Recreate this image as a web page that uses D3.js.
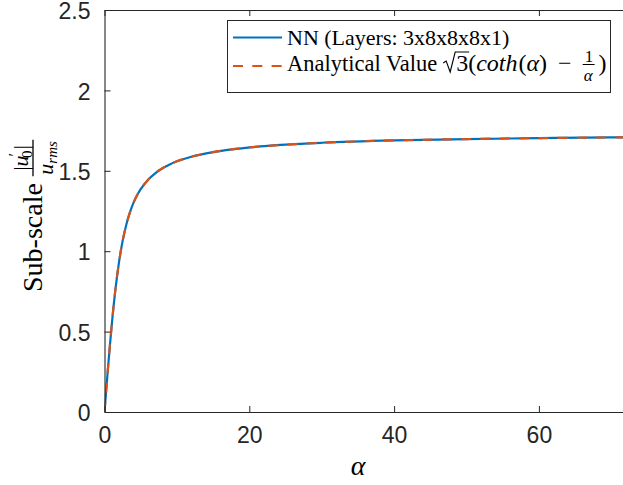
<!DOCTYPE html>
<html>
<head>
<meta charset="utf-8">
<script src="https://cdn.jsdelivr.net/npm/d3@7"></script>
<style>
  html, body { margin: 0; padding: 0; background: #fff; }
  svg { display: block; }
</style>
</head>
<body>
<svg id="chart" width="623" height="485"></svg>
<script>
// Sub-scale ratio |u'_0| / u_rms against alpha
const alphaValues = [0, 0.25, 0.5, 0.75, 1, 1.25, 1.5, 1.75, 2, 2.25, 2.5, 3, 3.5, 4, 4.5, 5, 6, 7, 8, 9, 10, 12, 15, 20, 25, 30, 40, 50, 60, 70, 75];
const nnValues = [0, 0.1437, 0.2840, 0.4153, 0.5422, 0.6562, 0.7588, 0.8502, 0.9307, 1.0012, 1.0627, 1.1633, 1.2403, 1.3002, 1.3476, 1.3858, 1.4434, 1.4846, 1.5155, 1.5396, 1.5588, 1.5877, 1.6166, 1.6454, 1.6628, 1.6743, 1.6887, 1.6974, 1.7032, 1.7073, 1.7090];
const analyticValues = [0, 0.1437, 0.2840, 0.4153, 0.5422, 0.6562, 0.7588, 0.8502, 0.9307, 1.0012, 1.0627, 1.1633, 1.2403, 1.3002, 1.3476, 1.3858, 1.4434, 1.4846, 1.5155, 1.5396, 1.5588, 1.5877, 1.6166, 1.6454, 1.6628, 1.6743, 1.6887, 1.6974, 1.7032, 1.7073, 1.7090];
const xTicks = [0, 20, 40, 60];
const yTicks = [0, 0.5, 1, 1.5, 2, 2.5];
const xTickLabels = ["0", "20", "40", "60"];
const yTickLabels = ["0", "0.5", "1", "1.5", "2", "2.5"];

const svg = d3.select("#chart");
const axisColor = "#262626";
const blue = "#0072BD";
const orange = "#D95319";
const serif = "\"Liberation Serif\", \"Times New Roman\", serif";
const sans = "\"Liberation Sans\", Arial, sans-serif";

const x = d3.scaleLinear().domain([0, 75]).range([104.5, 104.5 + 7.24 * 75]);
const y = d3.scaleLinear().domain([0, 2.5]).range([412, 10]);
const plotLeft = x(0), plotRight = x(75), plotTop = y(2.5), plotBottom = y(0);

// clip region for the plotted curves
svg.append("defs").append("clipPath").attr("id", "plotClip")
  .append("rect").attr("x", plotLeft).attr("y", plotTop)
  .attr("width", plotRight - plotLeft).attr("height", plotBottom - plotTop);

// curves
const line = d3.line().curve(d3.curveMonotoneX);
const nnPts = alphaValues.map((a, i) => [x(a), y(nnValues[i])]);
const anPts = alphaValues.map((a, i) => [x(a), y(analyticValues[i])]);

const plot = svg.append("g").attr("clip-path", "url(#plotClip)");
plot.append("path").attr("d", line(nnPts))
  .attr("fill", "none").attr("stroke", blue).attr("stroke-width", 2.2);
plot.append("path").attr("d", line(anPts))
  .attr("fill", "none").attr("stroke", orange).attr("stroke-width", 2.2)
  .attr("stroke-dasharray", "10,9.3");

// axes: bottom and left with inward ticks, plus box line on top
const xAxis = d3.axisBottom(x).tickValues(xTicks).tickFormat((d, i) => xTickLabels[i])
  .tickSizeInner(-6).tickSizeOuter(0).tickPadding(14);
const yAxis = d3.axisLeft(y).tickValues(yTicks).tickFormat((d, i) => yTickLabels[i])
  .tickSizeInner(-6).tickSizeOuter(0).tickPadding(14);

const gx = svg.append("g").attr("transform", `translate(0,${plotBottom})`).call(xAxis);
const gy = svg.append("g").attr("transform", `translate(${plotLeft},0)`).call(yAxis);
[gx, gy].forEach(g => {
  g.select(".domain").attr("stroke", axisColor).attr("stroke-width", 1.1);
  g.selectAll(".tick line").attr("stroke", axisColor).attr("stroke-width", 1);
  g.selectAll(".tick text").attr("fill", axisColor).style("font-family", sans).attr("font-size", 23);
});
gx.selectAll(".tick text").attr("dy", "0.72em");
gy.selectAll(".tick text").attr("dy", "0.38em");

const gt = svg.append("g").attr("transform", `translate(0,${plotTop})`)
  .call(d3.axisTop(x).tickValues(xTicks).tickFormat("").tickSizeInner(-6).tickSizeOuter(0));
gt.select(".domain").attr("stroke", axisColor).attr("stroke-width", 1.1);
gt.selectAll(".tick line").attr("stroke", axisColor);

// helper: append a text piece and return its width
function piece(g, str, px, py, opts) {
  const t = g.append("text").attr("x", px).attr("y", py)
    .style("font-family", serif).attr("font-size", opts.size)
    .attr("fill", opts.fill || "#000")
    .attr("font-style", opts.italic ? "italic" : "normal")
    .text(str);
  return t.node().getComputedTextLength();
}

// x label
svg.append("text").attr("x", 358).attr("y", 475).attr("text-anchor", "middle")
  .style("font-family", serif).attr("font-style", "italic").attr("font-size", 28)
  .attr("fill", "#000").text("α");

// y label: "Sub-scale" followed by the fraction |u'_0| / u_rms
const yl = svg.append("g").attr("transform", "translate(42,212) rotate(-90)");
let cx = -80;
cx += piece(yl, "Sub-scale", cx, 0, { size: 28 });
cx += 7;
const fracStart = cx;
const num = yl.append("g");
let nx = 0;
nx += piece(num, "|", nx, -14, { size: 22 });
nx += piece(num, "u", nx, -14, { size: 22, italic: true });
nx += piece(num, "′", nx - 1, -22, { size: 16 });
nx += piece(num, "0", nx - 6, -10, { size: 15 }) - 6;
nx += piece(num, "|", nx + 1, -14, { size: 22 }) + 1;
const numW = nx;
const den = yl.append("g");
let dx = 0;
dx += piece(den, "u", dx, 11, { size: 22, italic: true });
dx += piece(den, "rms", dx, 15, { size: 15, italic: true });
const denW = dx;
const fracW = Math.max(numW, denW) + 3;
num.attr("transform", `translate(${fracStart + (fracW - numW) / 2},0)`);
den.attr("transform", `translate(${fracStart + (fracW - denW) / 2},0)`);
yl.append("line").attr("x1", fracStart).attr("x2", fracStart + fracW)
  .attr("y1", -9).attr("y2", -9).attr("stroke", "#000").attr("stroke-width", 1.3);

// legend
const lg = svg.append("g");
lg.append("rect").attr("x", 227.5).attr("y", 20.5).attr("width", 383).attr("height", 72)
  .attr("fill", "#fff").attr("stroke", axisColor).attr("stroke-width", 1);
lg.append("line").attr("x1", 233).attr("x2", 282).attr("y1", 37.5).attr("y2", 37.5)
  .attr("stroke", blue).attr("stroke-width", 2.2);
lg.append("line").attr("x1", 233).attr("x2", 282).attr("y1", 66).attr("y2", 66)
  .attr("stroke", orange).attr("stroke-width", 2.2).attr("stroke-dasharray", "10,9.3");

piece(lg, "NN (Layers: 3x8x8x8x1)", 287, 44.5, { size: 22 });

let lx = 287;
const ly = 71;
const mathSize = 24;
lx += piece(lg, "Analytical Value", lx, ly, { size: 22.5 });
lx += 6;
// square root sign over 3
lg.append("path")
  .attr("d", `M${lx},${ly - 8} L${lx + 3},${ly - 10} L${lx + 7},${ly + 1} L${lx + 12},${ly - 19} L${lx + 26},${ly - 19}`)
  .attr("fill", "none").attr("stroke", "#000").attr("stroke-width", 1.1);
lx += 13;
lx += piece(lg, "3", lx, ly, { size: mathSize });
lx += piece(lg, "(", lx, ly, { size: mathSize });
lx += piece(lg, "coth", lx, ly, { size: mathSize, italic: true }) + 1;
lx += piece(lg, "(", lx, ly, { size: mathSize });
lx += piece(lg, "α", lx, ly, { size: mathSize, italic: true });
lx += piece(lg, ")", lx, ly, { size: mathSize });
lx += 11;
lx += piece(lg, "−", lx, ly, { size: mathSize });
lx += 11;
const fx = lx;
const oneW = piece(lg, "1", fx + 2, ly - 9, { size: 17 });
const alW = piece(lg, "α", fx + 1, ly + 10, { size: 17, italic: true });
const fW = Math.max(oneW, alW) + 3;
lg.append("line").attr("x1", fx).attr("x2", fx + fW).attr("y1", ly - 6.5).attr("y2", ly - 6.5)
  .attr("stroke", "#000").attr("stroke-width", 1);
lx += fW + 4;
piece(lg, ")", lx, ly, { size: mathSize });
</script>
</body>
</html>
